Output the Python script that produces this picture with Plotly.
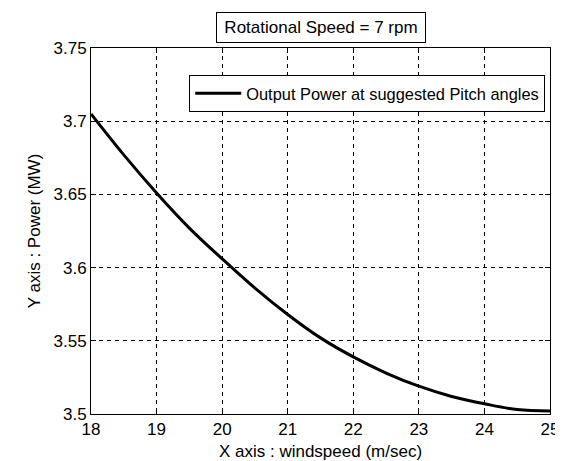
import plotly.graph_objects as go

windspeed = [18, 18.5, 19, 19.5, 20, 20.5, 21, 21.5, 22, 22.5, 23, 23.5, 24, 24.5, 25]
power_mw = [3.705, 3.677, 3.651, 3.627, 3.606, 3.586, 3.568, 3.552, 3.539, 3.528,
            3.519, 3.512, 3.507, 3.503, 3.502]
x_ticks = [18, 19, 20, 21, 22, 23, 24, 25]
y_ticks = [3.5, 3.55, 3.6, 3.65, 3.7, 3.75]
y_tick_text = ["3.5", "3.55", "3.6", "3.65", "3.7", "3.75"]

FONT = "Arial, Liberation Sans, sans-serif"
FS = 17

fig = go.Figure()
fig.add_trace(go.Scatter(
    x=windspeed, y=power_mw, mode="lines",
    line=dict(color="black", width=3, shape="spline"),
    name="Output Power at suggested Pitch angles",
))

axis_common = dict(
    showline=True, linecolor="black", linewidth=1, mirror="ticks",
    ticks="inside", ticklen=5, tickcolor="black",
    showgrid=True, gridcolor="black", gridwidth=1, griddash="4px,4px",
    zeroline=False,
    tickfont=dict(family=FONT, size=FS, color="black"),
)

fig.update_xaxes(range=[18, 25], tickvals=x_ticks,
                 title=dict(text="X axis : windspeed (m/sec)",
                            font=dict(family=FONT, size=FS, color="black"), standoff=6),
                 **axis_common)
fig.update_yaxes(range=[3.5, 3.75], tickvals=y_ticks, ticktext=y_tick_text,
                 title=dict(text="Y axis : Power (MW)",
                            font=dict(family=FONT, size=FS, color="black"), standoff=8),
                 **axis_common)

fig.add_annotation(
    text="Rotational Speed = 7 rpm", xref="paper", yref="paper",
    x=0.5, y=1, xanchor="center", yanchor="bottom", yshift=5, showarrow=False,
    font=dict(family=FONT, size=FS, color="black"),
    width=206, height=27,
    bordercolor="black", borderwidth=1, borderpad=1, bgcolor="white",
)

fig.update_layout(
    width=563, height=461,
    margin=dict(l=83, r=13, t=40, b=54),
    paper_bgcolor="white", plot_bgcolor="white",
    font=dict(family=FONT, size=FS, color="black"),
    showlegend=True,
    legend=dict(x=0.214, y=0.926, xanchor="left", yanchor="top",
                bordercolor="black", borderwidth=1, bgcolor="white",
                itemwidth=46, tracegroupgap=0,
                font=dict(family=FONT, size=16.4, color="black")),
)

fig.write_html("out.html")
